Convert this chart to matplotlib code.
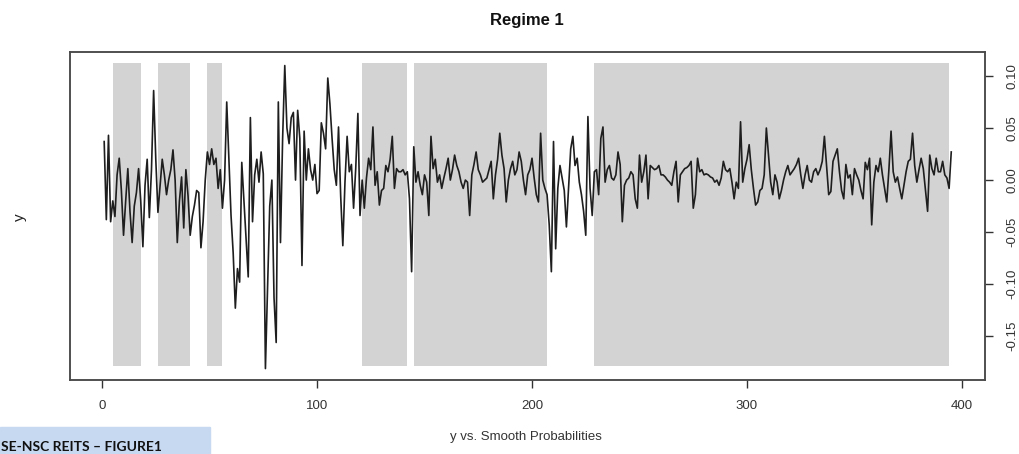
import matplotlib
matplotlib.use("Agg")
import matplotlib.pyplot as plt
from matplotlib.patches import Rectangle

plt.rcParams['font.family'] = ['Liberation Sans', 'DejaVu Sans']
plt.rcParams['axes.unicode_minus'] = False

# series y (obs 1..395)
y = [
    0.037, -0.038, 0.043, -0.040, -0.020, -0.035, 0.005, 0.021, -0.010, -0.053,
    -0.020, 0.011, -0.030, -0.060, -0.025, -0.012, 0.011, -0.020, -0.064, -0.005,
    0.020, -0.036, 0.010, 0.086, 0.020, -0.031, -0.005, 0.020, 0.005, -0.014,
    0.000, 0.010, 0.029, 0.000, -0.060, -0.020, 0.003, -0.046, 0.010, -0.015,
    -0.053, -0.035, -0.024, -0.010, -0.012, -0.065, -0.040, 0.000, 0.027, 0.015,
    0.030, 0.015, 0.021, -0.008, 0.010, -0.027, 0.000, 0.075, 0.020, -0.034,
    -0.070, -0.123, -0.085, -0.098, 0.017, -0.020, -0.056, -0.093, 0.060, -0.040,
    0.005, 0.020, -0.002, 0.027, 0.006, -0.181, -0.104, -0.025, 0.000, -0.113,
    -0.156, 0.075, -0.060, 0.040, 0.110, 0.050, 0.035, 0.060, 0.065, 0.000,
    0.067, 0.040, -0.082, 0.047, 0.000, 0.030, 0.010, 0.000, 0.015, -0.013,
    -0.010, 0.055, 0.045, 0.030, 0.098, 0.073, 0.040, 0.010, -0.005, 0.051,
    -0.015, -0.063, -0.002, 0.042, 0.008, 0.015, -0.027, 0.011, 0.064, -0.034,
    0.000, -0.027, 0.002, 0.021, 0.010, 0.051, -0.005, 0.008, -0.024, -0.010,
    -0.008, 0.014, 0.008, 0.020, 0.042, -0.008, 0.011, 0.008, 0.008, 0.010,
    0.005, 0.008, -0.018, -0.088, 0.032, -0.002, 0.008, -0.005, -0.014, 0.005,
    -0.002, -0.034, 0.042, 0.011, 0.020, -0.002, 0.005, -0.008, 0.002, 0.011,
    0.021, 0.000, 0.010, 0.024, 0.014, 0.008, -0.002, -0.008, 0.000, -0.002,
    -0.034, 0.005, 0.015, 0.027, 0.010, 0.005, -0.002, 0.000, 0.002, 0.010,
    0.018, -0.018, 0.005, 0.020, 0.045, 0.024, 0.011, -0.021, 0.000, 0.011,
    0.018, 0.005, 0.010, 0.027, 0.018, 0.000, -0.014, 0.005, 0.010, 0.021,
    0.002, -0.014, -0.021, 0.045, 0.000, -0.008, -0.014, -0.043, -0.088, 0.037,
    -0.066, -0.008, 0.014, 0.002, -0.010, -0.045, -0.008, 0.030, 0.042, 0.014,
    0.021, -0.002, -0.014, -0.030, -0.053, 0.061, -0.008, -0.034, 0.008, 0.010,
    -0.014, 0.040, 0.051, -0.002, 0.010, 0.014, 0.002, 0.000, 0.005, 0.027,
    0.015, -0.040, -0.005, 0.000, 0.002, 0.008, 0.005, -0.018, -0.027, 0.024,
    -0.002, 0.008, 0.024, -0.018, 0.014, 0.012, 0.010, 0.011, 0.014, 0.005,
    0.005, 0.003, 0.000, -0.002, -0.005, 0.008, 0.018, -0.021, 0.005, 0.008,
    0.011, 0.012, 0.014, 0.018, -0.027, -0.014, 0.021, 0.008, 0.010, 0.005,
    0.006, 0.005, 0.003, 0.002, -0.002, 0.000, -0.005, 0.002, 0.018, 0.010,
    0.008, 0.011, -0.002, -0.018, -0.002, -0.008, 0.056, -0.002, 0.011, 0.020,
    0.034, 0.010, -0.008, -0.024, -0.021, -0.010, -0.008, 0.005, 0.050, 0.024,
    -0.002, -0.014, 0.005, -0.002, -0.018, -0.010, 0.000, 0.008, 0.014, 0.005,
    0.008, 0.011, 0.015, 0.021, 0.005, -0.008, 0.005, 0.014, 0.000, -0.002,
    0.008, 0.011, 0.005, 0.010, 0.018, 0.042, 0.014, -0.014, -0.011, 0.018,
    0.024, 0.030, 0.008, -0.010, -0.018, 0.015, 0.002, 0.005, -0.014, 0.011,
    0.005, 0.000, -0.010, -0.018, 0.017, 0.010, 0.021, -0.043, -0.002, 0.014,
    0.008, 0.021, 0.005, -0.008, -0.021, 0.010, 0.047, 0.008, -0.002, 0.003,
    -0.008, -0.018, -0.005, 0.008, 0.018, 0.020, 0.045, 0.014, -0.002, 0.010,
    0.021, 0.011, -0.010, -0.030, 0.024, 0.011, 0.005, 0.021, 0.008, 0.008,
    0.018, 0.005, 0.002, -0.008, 0.027,
]
t = list(range(1, len(y) + 1))

# periods where smoothed prob of regime 1 is ~1
regime_start = [5, 26, 49, 121, 145, 229]
regime_end = [18, 41, 56, 142, 207, 394]

xticks = [0, 100, 200, 300, 400]
yticks = [-0.15, -0.10, -0.05, 0.00, 0.05, 0.10]

fig = plt.figure(figsize=(10.19, 4.54), dpi=100)
ax = fig.add_axes([70 / 1019, 74 / 454, 915 / 1019, 328 / 454])

widths = [e - s for s, e in zip(regime_start, regime_end)]
ax.bar(regime_start, [1] * len(regime_start), width=widths, align='edge',
       color='#d3d3d3', linewidth=0)
ax.set_ylim(-0.046, 1.036)
ax.set_yticks([])
ax.set_xlim(-14.9, 410.7)
ax.set_xticks(xticks)
ax.set_xticklabels([str(v) for v in xticks])
ax.tick_params(axis='x', direction='out', length=5.5, width=1, pad=9,
               labelsize=9.5, colors='#333333')

axy = ax.twinx()
axy.plot(t, y, color='#1e1e1e', linewidth=1.2)
axy.set_ylim(-0.192, 0.123)
axy.set_yticks(yticks)
axy.set_yticklabels(['%.2f' % v for v in yticks], rotation=90, va='center')
axy.tick_params(axis='y', direction='out', length=5.5, width=1, pad=10,
                labelsize=9.5, colors='#333333')

for a in (ax, axy):
    for s in a.spines.values():
        s.set_color('#4a4a4a')
        s.set_linewidth(1.1)

fig.text(527 / 1019, 1 - 20 / 454, 'Regime 1', ha='center', va='center',
         fontsize=12, fontweight='bold', color='#111111')
fig.text(20 / 1019, 1 - 217 / 454, 'y', ha='center', va='center',
         rotation=90, fontsize=11, color='#222222')
fig.text(526 / 1019, 1 - 437 / 454, 'y vs. Smooth Probabilities',
         ha='center', va='center', fontsize=9.5, color='#333333')

# caption box bottom left
fig.patches.append(Rectangle((0, 0), 210 / 1019, 27 / 454,
                             transform=fig.transFigure, color='#c6d9f1',
                             zorder=0))
fig.text(1 / 1019, 1 - 447 / 454, 'SE-NSC REITS \u2013 FIGURE1',
         ha='left', va='center', fontsize=10, fontweight='bold',
         family=['Lato', 'DejaVu Sans'], color='#111111')

fig.savefig('out.png', dpi=100)
